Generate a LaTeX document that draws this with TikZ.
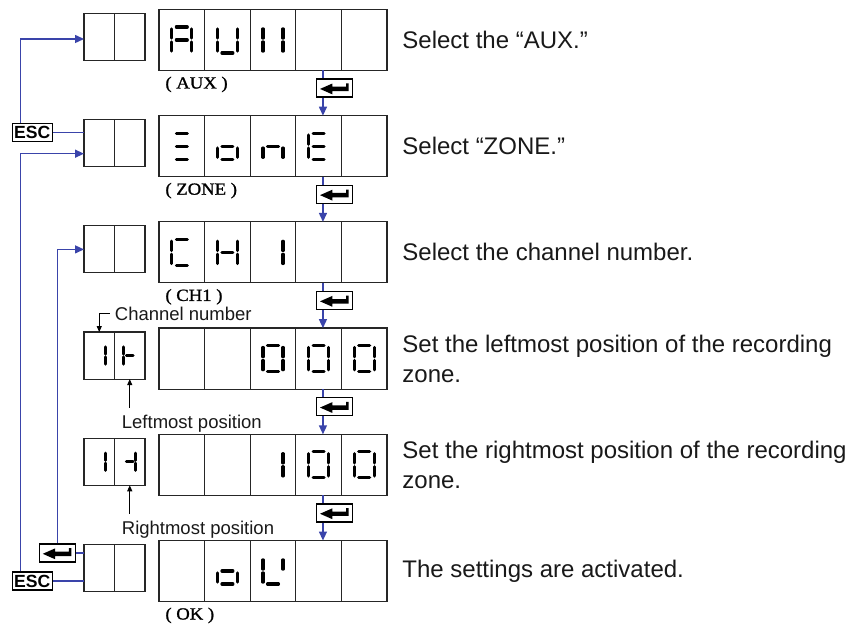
\documentclass[tikz,border=0pt]{standalone}
\usepackage{fontspec}
\setmainfont{Liberation Sans}
\newfontfamily\tagfont[FakeStretch=1.1, FakeBold=1.2]{Liberation Serif}
\usetikzlibrary{arrows.meta,positioning}

\definecolor{flowblue}{RGB}{58,68,170}

\tikzset{
  seg-a/.style={insert path={(-0.55,1) -- (0.55,1)}},
  seg-b/.style={insert path={(1,0.86) -- (1,0.14)}},
  seg-c/.style={insert path={(1,-0.14) -- (1,-0.86)}},
  seg-d/.style={insert path={(-0.55,-1) -- (0.55,-1)}},
  seg-e/.style={insert path={(-1,-0.14) -- (-1,-0.86)}},
  seg-f/.style={insert path={(-1,0.86) -- (-1,0.14)}},
  seg-g/.style={insert path={(-0.55,0) -- (0.55,0)}},
}

% seven-segment glyph in a display cell
\newcommand\showglyph[3][bigdigit]{%
  \begin{scope}[shift={(#2)}, #1]
    \foreach \s in {#3} \draw[segline, seg-\s];
  \end{scope}}

\begin{document}
\begin{tikzpicture}[
    cell/.style={draw=black!85, line width=0.6pt, minimum width=22.8pt, minimum height=30.5pt, inner sep=0pt, outer sep=0pt},
    smallcell/.style={cell, minimum width=15.25pt, minimum height=23.5pt},
    segline/.style={line width=1.55pt, line cap=round},
    bigdigit/.style={x=5pt, y=6.5pt},
    smalldigit/.style={x=3pt, y=5pt},
    link/.style={draw=flowblue, line width=0.7pt},
    flow/.style={link, -{Triangle[length=4.5pt, width=4pt]}},
    pointer/.style={line width=0.5pt, -{Triangle[length=3pt, width=2.5pt]}},
    desc/.style={font=\fontsize{12}{15}\selectfont, align=left, anchor=west, inner sep=0pt, text=black!90},
    note/.style={font=\fontsize{9.25}{11}\selectfont, inner sep=0pt, anchor=base west, text=black!90},
    tag/.style={font=\tagfont\fontsize{8.5}{10}\selectfont, inner sep=0pt, anchor=base west},
    esckey/.style={draw, line width=0.7pt, fill=white, font=\bfseries\fontsize{8.8}{9}\selectfont, inner sep=0pt, minimum width=20pt, minimum height=9pt},
    enterkey/.style={draw, line width=0.65pt, fill=white, minimum width=18pt, minimum height=9pt, inner sep=0pt,
      path picture={\fill[black] ([shift={(-7.3pt,-0.4pt)}]path picture bounding box.center)
        -- ++(6.15pt,2.7pt) -- ++(0,-1.6pt) -- ++(6.85pt,0) -- ++(0,1.7pt) -- ++(1.3pt,0)
        -- ++(0,-3.9pt) -- ++(-8.15pt,0) -- ++(0,-1.6pt) -- cycle;}}
  ]
  \useasboundingbox (0,0) rectangle (427pt,-312pt);

  % display rows
  \node[cell] (aux1) at (90.9pt,-20pt) {};
  \foreach \row [remember=\row as \prev (initially aux)] in {zone,chan,lpos,rpos,ok}
    \node[cell, below=22.6pt of \prev1] (\row1) {};
  \foreach \row in {aux,zone,chan,lpos,rpos,ok}{
    \foreach \i [count=\j from 2] in {1,...,4}
      \node[cell, right=0pt of \row\i] (\row\j) {};
    \node[smallcell, left=7pt of \row1, yshift=1.5pt] (\row R) {};
    \node[smallcell, left=0pt of \row R] (\row L) {};
  }

  % glyphs
  \showglyph{aux1}{a,b,c,e,f,g}
  \showglyph{aux2}{b,c,d,e,f}
  \showglyph{aux3}{b,c,e,f}
  \showglyph{zone1}{a,d,g}
  \showglyph{zone2}{c,d,e,g}
  \showglyph{zone3}{c,e,g}
  \showglyph{zone4}{a,d,e,f,g}
  \showglyph{chan1}{a,d,e,f}
  \showglyph{chan2}{b,c,e,f,g}
  \showglyph{chan3}{b,c}
  \showglyph[smalldigit]{lposL}{b,c}
  \showglyph[smalldigit]{lposR}{e,f,g}
  \foreach \i in {3,4,5} {\showglyph{lpos\i}{a,b,c,d,e,f}}
  \showglyph[smalldigit]{rposL}{b,c}
  \showglyph[smalldigit]{rposR}{b,c,g}
  \showglyph{rpos3}{b,c}
  \foreach \i in {4,5} {\showglyph{rpos\i}{a,b,c,d,e,f}}
  \showglyph{ok2}{c,d,e,g}
  \showglyph{ok3}{b,d,e,f}

  % labels under the displays
  \foreach \row/\txt in {aux/( AUX ), zone/( ZONE ), chan/( CH1 ), ok/( OK )}
    \node[tag] (\row tag) at ([shift={(3pt,-9pt)}]\row1.south west) {\txt};

  % step descriptions
  \node[desc, right=7.5pt of aux5] (auxtext) {Select the “AUX.”};
  \node[desc, right=7.5pt of zone5] (zonetext) {Select “ZONE.”};
  \node[desc, right=7.5pt of chan5] (chantext) {Select the channel number.};
  \node[desc, right=7.5pt of lpos5] (lpostext) {Set the leftmost position of the recording\\zone.};
  \node[desc, right=7.5pt of rpos5] (rpostext) {Set the rightmost position of the recording\\zone.};
  \node[desc, right=7.5pt of ok5] (oktext) {The settings are activated.};

  % enter keys between rows
  \foreach \src/\dst [count=\k] in {aux/zone, zone/chan, chan/lpos, lpos/rpos, rpos/ok}{
    \node[enterkey, below=4pt of \src4.south, xshift=8pt] (enter\k) {};
    \coordinate (tap\k) at ([xshift=3.5pt]enter\k.west);
    \draw[link] (tap\k |- \src4.south) -- (tap\k |- enter\k.north);
    \draw[flow] (tap\k |- enter\k.south) -- (tap\k |- \dst4.north);
  }

  % escape and return paths
  \node[esckey, left=15.5pt of zoneL, yshift=5.25pt] (esc1) {ESC};
  \node[esckey, left=15.5pt of okL, yshift=-6.5pt] (esc2) {ESC};
  \node[enterkey, left=4pt of okL, yshift=7.5pt] (back) {};
  \draw[link] (esc1) -- (esc1 -| zoneL.west);
  \draw[link] (esc2) -- (esc2 -| okL.west);
  \draw[link] (back) -- (back -| okL.west);
  \draw[flow] ([xshift=4.5pt]esc1.north west) |- ([yshift=-1pt]auxL.west);
  \draw[flow] ([xshift=4.5pt]esc2.north west) |- ([yshift=-5.25pt]zoneL.west);
  \draw[flow] (back.north) |- (chanL.west);

  % notes on the channel display
  \node[note] (chnote) at ([yshift=6pt]lposR.north west) {Channel number};
  \draw[pointer] ([xshift=-2.5pt]chnote.west) -| (lposL.north);
  \node[note] (lnote) at ([shift={(3.5pt,-24.5pt)}]lposR.south west) {Leftmost position};
  \draw[pointer] (lnote.north -| lposR.south) ++(0,3.25pt) -- (lposR.south);
  \node[note] (rnote) at ([shift={(3.5pt,-24.5pt)}]rposR.south west) {Rightmost position};
  \draw[pointer] (rnote.north -| rposR.south) ++(0,3.25pt) -- (rposR.south);
\end{tikzpicture}
\end{document}
